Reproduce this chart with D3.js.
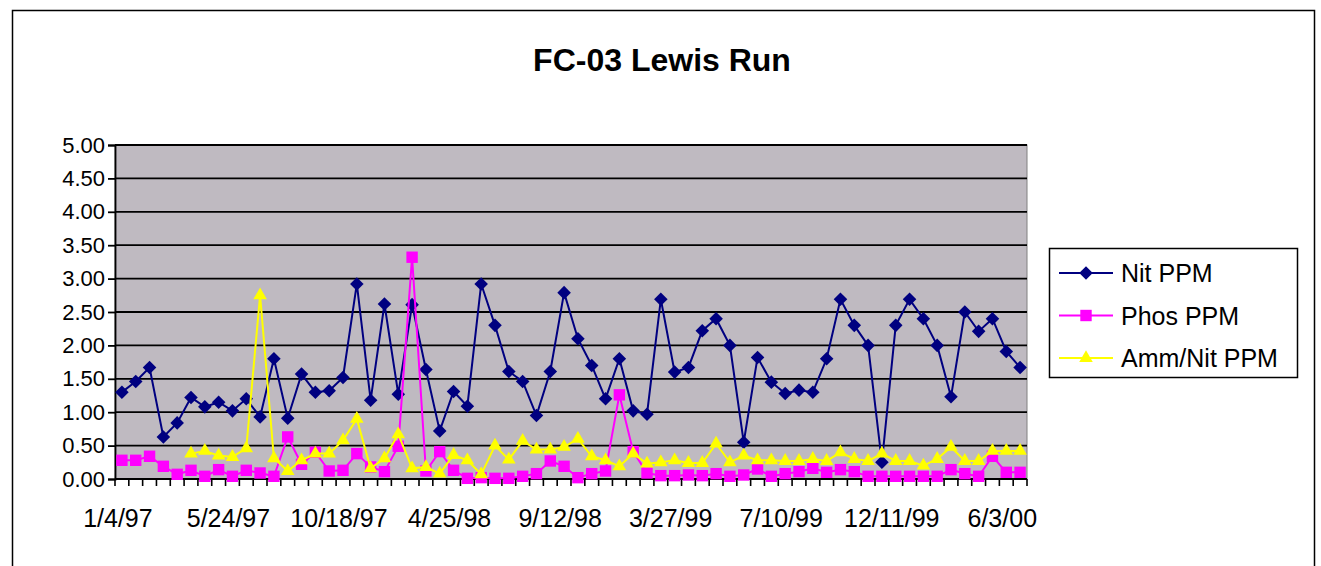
<!DOCTYPE html>
<html>
<head>
<meta charset="utf-8">
<script src="https://cdn.jsdelivr.net/npm/d3@7"></script>
<style>
  body { margin: 0; background: #fff; }
  svg { display: block; font-family: Arial, "Liberation Sans", sans-serif; }
</style>
</head>
<body>
<svg id="chart" width="1321" height="566"></svg>
<script>
// Values, one per sample date.
var nitPPM = [1.30, 1.46, 1.67, 0.63, 0.84, 1.22, 1.08, 1.15, 1.02, 1.20,
              0.93, 1.80, 0.91, 1.57, 1.30, 1.32, 1.52, 2.92, 1.18, 2.62,
              1.27, 2.61, 1.64, 0.72, 1.31, 1.09, 2.92, 2.30, 1.61, 1.46,
              0.95, 1.61, 2.79, 2.10, 1.70, 1.20, 1.80, 1.02, 0.97, 2.69,
              1.60, 1.67, 2.22, 2.40, 2.00, 0.55, 1.82, 1.45, 1.28, 1.33,
              1.30, 1.80, 2.69, 2.30, 2.00, 0.25, 2.30, 2.69, 2.40, 2.00,
              1.23, 2.50, 2.21, 2.40, 1.91, 1.67];
var phosPPM = [0.28, 0.28, 0.34, 0.19, 0.07, 0.13, 0.04, 0.14, 0.04, 0.13,
               0.09, 0.04, 0.63, 0.22, 0.40, 0.12, 0.13, 0.38, 0.18, 0.11,
               0.49, 3.32, 0.12, 0.41, 0.13, 0.01, 0.02, 0.01, 0.01, 0.04,
               0.08, 0.27, 0.19, 0.02, 0.08, 0.12, 1.26, 0.41, 0.09, 0.05,
               0.05, 0.06, 0.05, 0.08, 0.04, 0.06, 0.15, 0.04, 0.08, 0.11,
               0.16, 0.10, 0.14, 0.11, 0.04, 0.04, 0.04, 0.04, 0.04, 0.04,
               0.14, 0.08, 0.04, 0.34, 0.10, 0.10];
var ammNitPPM = [null, null, null, null, null, 0.38, 0.42, 0.35, 0.33, 0.46,
                 2.75, 0.31, 0.12, 0.28, 0.38, 0.38, 0.58, 0.90, 0.16, 0.31,
                 0.67, 0.16, 0.18, 0.08, 0.36, 0.28, 0.07, 0.50, 0.29, 0.57,
                 0.44, 0.44, 0.48, 0.60, 0.34, 0.28, 0.19, 0.38, 0.23, 0.25,
                 0.28, 0.24, 0.24, 0.53, 0.25, 0.35, 0.28, 0.28, 0.27, 0.27,
                 0.30, 0.27, 0.40, 0.30, 0.27, 0.38, 0.27, 0.27, 0.20, 0.30,
                 0.48, 0.27, 0.27, 0.42, 0.42, 0.42];
var tickLabels = ["1/4/97", "5/24/97", "10/18/97", "4/25/98", "9/12/98",
                  "3/27/99", "7/10/99", "12/11/99", "6/3/00"];
var labelEvery = 8;
var yTicks = [0, 0.5, 1, 1.5, 2, 2.5, 3, 3.5, 4, 4.5, 5];

var series = [
  {name: "Nit PPM", values: nitPPM, color: "#000080", shape: "diamond"},
  {name: "Phos PPM", values: phosPPM, color: "#ff00ff", shape: "square"},
  {name: "Amm/Nit PPM", values: ammNitPPM, color: "#ffff00", shape: "triangle"}
];

var svg = d3.select("#chart");
var plot = {left: 115, top: 145, right: 1027, bottom: 479};

// chart frame (bottom edge runs off the picture)
svg.append("rect")
    .attr("x", 12.5).attr("y", 10.5)
    .attr("width", 1302).attr("height", 600)
    .attr("fill", "#fff").attr("stroke", "#000").attr("stroke-width", 1.5);

svg.append("text")
    .attr("x", 662).attr("y", 71)
    .attr("text-anchor", "middle")
    .style("font-size", "32px").style("font-weight", "bold")
    .text("FC-03 Lewis Run");

var idx = d3.range(nitPPM.length);
var x = d3.scaleBand().domain(idx).range([plot.left, plot.right]).padding(0);
var y = d3.scaleLinear().domain([0, 5]).range([plot.bottom, plot.top]);
var cx = function(i) { return x(i) + x.bandwidth() / 2; };

// plot area
svg.append("rect")
    .attr("x", plot.left).attr("y", plot.top)
    .attr("width", plot.right - plot.left).attr("height", plot.bottom - plot.top)
    .attr("fill", "#bfbac1").attr("stroke", "#808080").attr("stroke-width", 1);

svg.append("g").selectAll("line")
    .data(yTicks)
    .enter().append("line")
      .attr("x1", plot.left).attr("x2", plot.right)
      .attr("y1", function(d) { return y(d); })
      .attr("y2", function(d) { return y(d); })
      .attr("stroke", "#000").attr("stroke-width", 1.8);

// y axis
var yAxis = svg.append("g")
    .attr("transform", "translate(" + plot.left + ",0)")
    .call(d3.axisLeft(y).tickValues(yTicks).tickFormat(d3.format(".2f")).tickSize(7).tickPadding(3));
yAxis.select(".domain").attr("stroke", "#000").attr("stroke-width", 1.8);
yAxis.selectAll(".tick line").attr("stroke", "#000").attr("stroke-width", 1.8);
yAxis.selectAll("text").attr("fill", "#000").style("font-size", "22px").style("font-family", "Arial, 'Liberation Sans', sans-serif");

// x axis: tick marks between categories, labels every 8th category
var boundaries = idx.concat([idx.length]);
svg.append("g").selectAll("line")
    .data(boundaries)
    .enter().append("line")
      .attr("x1", function(i) { return i < idx.length ? x(i) : x(i - 1) + x.bandwidth(); })
      .attr("x2", function(i) { return i < idx.length ? x(i) : x(i - 1) + x.bandwidth(); })
      .attr("y1", plot.bottom).attr("y2", plot.bottom + 7)
      .attr("stroke", "#000").attr("stroke-width", 1.6);
svg.append("line")
    .attr("x1", plot.left).attr("x2", plot.right)
    .attr("y1", plot.bottom).attr("y2", plot.bottom)
    .attr("stroke", "#000").attr("stroke-width", 1.8);

var xAxis = svg.append("g")
    .attr("transform", "translate(0," + plot.bottom + ")")
    .call(d3.axisBottom(x)
      .tickValues(tickLabels.map(function(d, k) { return k * labelEvery; }))
      .tickFormat(function(d) { return tickLabels[d / labelEvery]; })
      .tickSize(0).tickPadding(30));
xAxis.select(".domain").remove();
xAxis.selectAll("text").attr("fill", "#000").attr("dx", -4)
    .style("font-size", "25px").style("font-family", "Arial, 'Liberation Sans', sans-serif");

function marker(shape) {
  if (shape === "diamond") return d3.symbol().type(d3.symbolSquare).size(92)();
  if (shape === "square") return d3.symbol().type(d3.symbolSquare).size(130)();
  return d3.symbol().type(d3.symbolTriangle).size(80)();
}
function markerRotate(shape) { return shape === "diamond" ? " rotate(45)" : ""; }

var line = d3.line()
    .defined(function(d) { return d != null; })
    .x(function(d, i) { return cx(i); })
    .y(function(d) { return y(d); });

series.forEach(function(s) {
  var g = svg.append("g");
  g.append("path")
      .datum(s.values)
      .attr("d", line)
      .attr("fill", "none")
      .attr("stroke", s.color)
      .attr("stroke-width", 2);
  g.selectAll("path.m")
    .data(s.values.map(function(v, i) { return {v: v, i: i}; }).filter(function(d) { return d.v != null; }))
    .enter().append("path")
      .attr("class", "m")
      .attr("d", marker(s.shape))
      .attr("transform", function(d) { return "translate(" + cx(d.i) + "," + y(d.v) + ")" + markerRotate(s.shape); })
      .attr("fill", s.color);
});

// legend
var legend = svg.append("g");
legend.append("rect")
    .attr("x", 1049.5).attr("y", 248.5).attr("width", 248).attr("height", 129)
    .attr("fill", "#fff").attr("stroke", "#000").attr("stroke-width", 1.5);
var items = legend.selectAll(".item")
    .data(series)
    .enter().append("g")
      .attr("class", "item")
      .attr("transform", function(d, i) { return "translate(0," + (273 + i * 42.5) + ")"; });
items.append("line")
    .attr("x1", 1059).attr("x2", 1113)
    .attr("stroke", function(d) { return d.color; }).attr("stroke-width", 2);
items.append("path")
    .attr("d", function(d) { return marker(d.shape); })
    .attr("transform", function(d) { return "translate(1086,0)" + markerRotate(d.shape); })
    .attr("fill", function(d) { return d.color; });
items.append("text")
    .attr("x", 1121).attr("dy", "0.36em")
    .style("font-size", "25px")
    .text(function(d) { return d.name; });
</script>
</body>
</html>
